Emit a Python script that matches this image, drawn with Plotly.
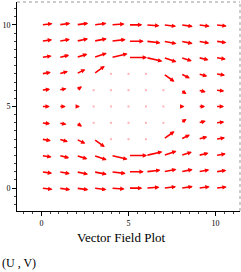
import plotly.graph_objects as go

# grid
xs = [0, 1, 2, 3, 4, 5, 6, 7, 8, 9, 10]
ys = [0, 1, 2, 3, 4, 5, 6, 7, 8, 9, 10]

# U component, rows are y = 0 .. 10, columns x = 0 .. 10
U = [
    [1.000, 1.032, 1.083, 1.150, 1.213, 1.240, 1.213, 1.150, 1.083, 1.032, 1.000],
    [0.968, 1.000, 1.067, 1.180, 1.311, 1.375, 1.311, 1.180, 1.067, 1.000, 0.968],
    [0.917, 0.933, 1.000, 1.178, 1.480, 1.667, 1.480, 1.178, 1.000, 0.933, 0.917],
    [0.850, 0.820, 0.822, 1.000, 0.000, 0.000, 0.000, 1.000, 0.822, 0.820, 0.850],
    [0.787, 0.689, 0.520, 0.000, 0.000, 0.000, 0.000, 0.000, 0.520, 0.689, 0.787],
    [0.760, 0.625, 0.333, 0.000, 0.000, 0.000, 0.000, 0.000, 0.333, 0.625, 0.760],
    [0.787, 0.689, 0.520, 0.000, 0.000, 0.000, 0.000, 0.000, 0.520, 0.689, 0.787],
    [0.850, 0.820, 0.822, 1.000, 0.000, 0.000, 0.000, 1.000, 0.822, 0.820, 0.850],
    [0.917, 0.933, 1.000, 1.178, 1.480, 1.667, 1.480, 1.178, 1.000, 0.933, 0.917],
    [0.968, 1.000, 1.067, 1.180, 1.311, 1.375, 1.311, 1.180, 1.067, 1.000, 0.968],
    [1.000, 1.032, 1.083, 1.150, 1.213, 1.240, 1.213, 1.150, 1.083, 1.032, 1.000],
]

# V component, rows are y = 0 .. 10, columns x = 0 .. 10
V = [
    [-0.120, -0.143, -0.156, -0.143, -0.089, 0.000, 0.089, 0.143, 0.156, 0.143, 0.120],
    [-0.143, -0.188, -0.230, -0.240, -0.166, 0.000, 0.166, 0.240, 0.230, 0.188, 0.143],
    [-0.156, -0.230, -0.333, -0.426, -0.360, 0.000, 0.360, 0.426, 0.333, 0.230, 0.156],
    [-0.143, -0.240, -0.426, -0.750, 0.000, 0.000, 0.000, 0.750, 0.426, 0.240, 0.143],
    [-0.089, -0.166, -0.360, 0.000, 0.000, 0.000, 0.000, 0.000, 0.360, 0.166, 0.089],
    [0.000, 0.000, 0.000, 0.000, 0.000, 0.000, 0.000, 0.000, 0.000, 0.000, 0.000],
    [0.089, 0.166, 0.360, 0.000, 0.000, 0.000, 0.000, 0.000, -0.360, -0.166, -0.089],
    [0.143, 0.240, 0.426, 0.750, 0.000, 0.000, 0.000, -0.750, -0.426, -0.240, -0.143],
    [0.156, 0.230, 0.333, 0.426, 0.360, 0.000, -0.360, -0.426, -0.333, -0.230, -0.156],
    [0.143, 0.188, 0.230, 0.240, 0.166, 0.000, -0.166, -0.240, -0.230, -0.188, -0.143],
    [0.120, 0.143, 0.156, 0.143, 0.089, 0.000, -0.089, -0.143, -0.156, -0.143, -0.120],
]

tick_vals = [0, 5, 10]
tick_text = ["0", "5", "10"]
title_text = "Vector Field Plot"
caption_text = "(U , V)"

SCALE = 0.64
FONT = "Liberation Serif, Times New Roman, serif"

fig = go.Figure()

annotations = []
dot_x, dot_y = [], []
for j, yv in enumerate(ys):
    for i, xv in enumerate(xs):
        u = U[j][i]
        v = V[j][i]
        if u == 0 and v == 0:
            dot_x.append(xv)
            dot_y.append(yv)
            continue
        annotations.append(dict(
            x=xv + SCALE * u, y=yv + SCALE * v,
            ax=xv, ay=yv,
            xref="x", yref="y", axref="x", ayref="y",
            text="", showarrow=True,
            arrowhead=2, arrowsize=0.55, arrowwidth=1.6,
            arrowcolor="#ff0000", standoff=0, startstandoff=0,
        ))

fig.add_trace(go.Scatter(
    x=dot_x, y=dot_y, mode="markers",
    marker=dict(size=2, color="rgba(255,0,0,0.3)", symbol="square"),
    hoverinfo="skip", showlegend=False,
))

annotations.append(dict(
    x=0.465, y=-0.125, xref="paper", yref="paper", text=title_text,
    showarrow=False, font=dict(family=FONT, size=13, color="black"),
    xanchor="center", yanchor="middle",
))
annotations.append(dict(
    x=-0.075, y=-0.25, xref="paper", yref="paper", text=caption_text,
    showarrow=False, font=dict(family=FONT, size=12, color="black"),
    xanchor="left", yanchor="middle",
))

fig.update_layout(
    width=241, height=272,
    margin=dict(l=17, r=1, t=2, b=61),
    paper_bgcolor="white", plot_bgcolor="white",
    showlegend=False,
    annotations=annotations,
    shapes=[
        dict(type="line", xref="paper", yref="paper", x0=0, x1=1, y0=1, y1=1,
             line=dict(color="#999999", width=1, dash="dot")),
        dict(type="line", xref="paper", yref="paper", x0=1, x1=1, y0=0, y1=1,
             line=dict(color="#999999", width=1, dash="dot")),
    ],
)

fig.update_xaxes(
    range=[-1.4, 11.4], showgrid=False, zeroline=False,
    showline=True, linecolor="black", linewidth=1,
    tickmode="array", tickvals=tick_vals, ticktext=tick_text,
    ticks="outside", ticklen=4, tickcolor="black",
    tickfont=dict(family=FONT, size=8, color="black"),
    minor=dict(ticks="outside", ticklen=2, dtick=0.5, tickcolor="#444444"),
)
fig.update_yaxes(
    range=[-1.4, 11.4], showgrid=False, zeroline=False,
    showline=True, linecolor="black", linewidth=1,
    tickmode="array", tickvals=tick_vals, ticktext=tick_text,
    ticks="outside", ticklen=4, tickcolor="black",
    tickfont=dict(family=FONT, size=8, color="black"),
    minor=dict(ticks="outside", ticklen=2, dtick=0.5, tickcolor="#444444"),
)

fig.write_html("out.html")
